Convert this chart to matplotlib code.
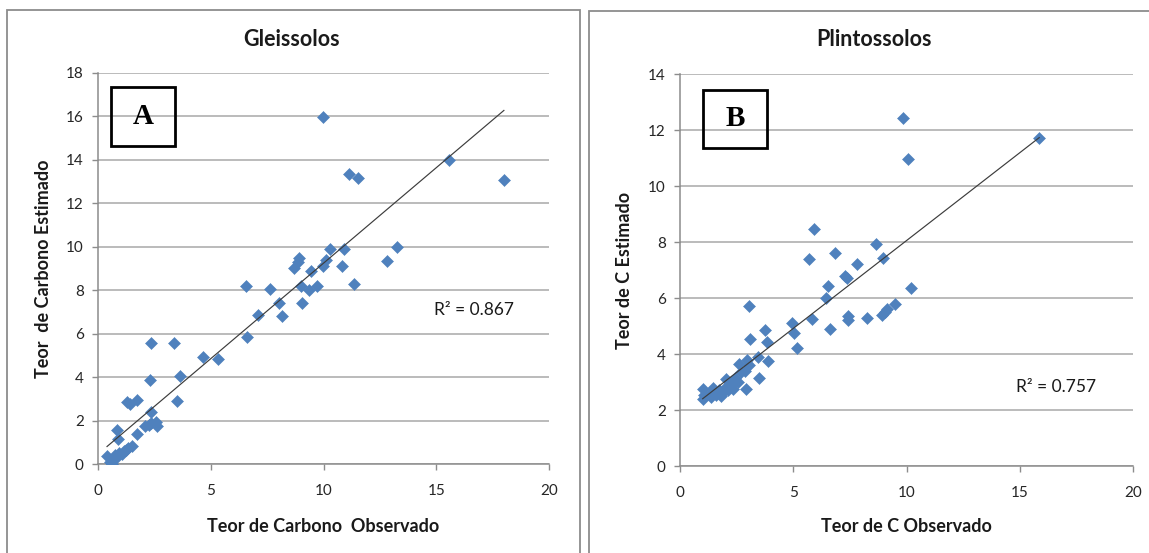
import numpy as np
import matplotlib
matplotlib.use("Agg")
import matplotlib.pyplot as plt
from matplotlib.patches import Rectangle

plt.rcParams['font.family'] = ['Lato', 'DejaVu Sans']

# Gleissolos: observed vs. estimated carbon content
gleis_obs = [0.40, 0.55, 0.60, 0.65, 0.75, 0.85, 0.95, 1.05, 1.15, 1.25, 1.35, 1.50,
             0.85, 0.90, 1.75, 2.10, 2.25, 2.35, 2.55, 2.60, 2.35, 1.30, 1.40, 1.72,
             2.30, 3.52, 3.64, 2.33, 3.37, 4.64, 5.34, 6.59, 7.11, 8.16, 8.04, 9.05,
             6.56, 7.63, 8.99, 9.37, 9.72, 11.35, 9.45, 8.70, 8.85, 8.93, 9.96, 10.11,
             10.80, 10.29, 10.91, 12.83, 13.25, 11.13, 11.52, 9.96, 15.58, 18.00]
gleis_est = [0.35, 0.10, 0.00, 0.25, 0.40, 0.30, 0.50, 0.45, 0.60, 0.65, 0.75, 0.85,
             1.57, 1.15, 1.37, 1.75, 1.78, 1.90, 1.95, 1.75, 2.40, 2.85, 2.78, 2.95,
             3.87, 2.92, 4.05, 5.56, 5.56, 4.91, 4.83, 5.84, 6.87, 6.80, 7.40, 7.43,
             8.18, 8.07, 8.18, 8.01, 8.20, 8.29, 8.90, 9.04, 9.30, 9.47, 9.13, 9.39,
             9.12, 9.90, 9.90, 9.35, 10.00, 13.34, 13.15, 15.96, 14.00, 13.08]

# Plintossolos: observed vs. estimated carbon content
plint_obs = [1.00, 1.00, 1.05, 1.35, 1.40, 1.45, 1.60, 1.70, 1.80, 1.90, 2.00, 2.05,
             2.10, 2.20, 2.30, 2.35, 2.45, 2.55, 2.60, 2.70, 2.85, 2.90, 2.95, 3.05,
             3.05, 3.08, 3.46, 3.50, 3.75, 3.82, 3.88, 4.93, 5.05, 5.15, 5.71, 5.81,
             5.92, 6.45, 6.52, 6.62, 6.84, 7.28, 7.36, 7.43, 7.43, 7.80, 8.27, 8.64,
             8.90, 8.95, 9.05, 9.12, 9.49, 9.86, 10.08, 10.22, 15.86]
plint_est = [2.40, 2.75, 2.55, 2.45, 2.65, 2.80, 2.55, 2.70, 2.50, 2.65, 2.80, 3.10,
             2.70, 2.85, 3.05, 2.75, 3.15, 3.00, 3.65, 3.35, 3.40, 2.75, 3.80, 3.60,
             5.70, 4.52, 3.90, 3.15, 4.85, 4.42, 3.75, 5.10, 4.75, 4.23, 7.38, 5.25,
             8.45, 6.01, 6.43, 4.88, 7.60, 6.80, 6.70, 5.35, 5.23, 7.20, 5.27, 7.93,
             5.38, 7.44, 5.50, 5.60, 5.77, 12.42, 10.97, 6.37, 11.73]

x_ticks = [0, 5, 10, 15, 20]
gleis_yticks = list(range(0, 19, 2))
plint_yticks = list(range(0, 15, 2))

W, H = 1149, 553
fig = plt.figure(figsize=(W / 100, H / 100), dpi=100)

BLUE = '#4F81BD'
GRID = '#a8a8a8'
SPINE = '#8c8c8c'


def fbox(l, t, r, b):
    return [l / W, 1 - b / H, (r - l) / W, (b - t) / H]


def frame(l, t, r, b, **kw):
    x, y, w, h = fbox(l, t, r, b)
    fig.patches.append(Rectangle((x, y), w, h, transform=fig.transFigure,
                                 fill=False, **kw))


# outer chart frames
frame(7, 10, 580, 570, edgecolor=SPINE, lw=1.3)
frame(589, 11, 1165, 570, edgecolor=SPINE, lw=1.3)


def panel(rect, obs, est, yticks, title, title_x, xlabel, ylabel, ylabel_x,
          r2_text, r2_xy, letter, letter_box):
    ax = fig.add_axes(fbox(*rect))
    ax.set_xlim(0, 20)
    ax.set_ylim(0, yticks[-1])
    ax.set_xticks(x_ticks)
    ax.set_yticks(yticks)
    ax.yaxis.grid(True, color=GRID, lw=1.1)
    ax.set_axisbelow(True)
    for s in ('top', 'right'):
        ax.spines[s].set_visible(False)
    for s in ('left', 'bottom'):
        ax.spines[s].set_color(SPINE)
        ax.spines[s].set_linewidth(1.1)
    ax.tick_params(direction='out', length=4.3, width=1.0, color=SPINE,
                   labelsize=11, labelcolor='#262626')
    ax.tick_params(axis='x', pad=10.0)
    ax.tick_params(axis='y', pad=6.0)

    ax.plot(obs, est, linestyle='none', marker='D', ms=6.3, color=BLUE,
            mec=BLUE, mew=0.4, zorder=3)

    # linear trendline over the observed range
    slope, intercept = np.polyfit(obs, est, 1)
    xs = np.array([min(obs), max(obs)])
    ax.plot(xs, slope * xs + intercept, color='#3c3c3c', lw=0.85, zorder=4)

    ax.set_xlabel(xlabel, fontsize=13, fontweight='bold', color='#1a1a1a')
    ax.set_ylabel(ylabel, fontsize=13, fontweight='bold', color='#1a1a1a')
    l, t, r, b = rect
    ax.xaxis.set_label_coords(0.5, (b - 526) / (b - t))
    ax.xaxis.label.set_va('center')
    ax.yaxis.set_label_coords((ylabel_x - l) / (r - l), 0.5)
    ax.yaxis.label.set_va('center')

    fig.text(title_x / W, 1 - 40 / H, title, ha='center', va='center',
             fontsize=15.5, fontweight='bold', color='#1a1a1a')
    fig.text(r2_xy[0] / W, 1 - r2_xy[1] / H, r2_text, ha='center', va='center',
             fontsize=12.5, color='#1a1a1a')

    bl, bt, br, bb = letter_box
    frame(bl, bt, br, bb, edgecolor='black', lw=2.0, facecolor='white',
          zorder=5)
    fig.text((bl + br) / 2 / W, 1 - (bt + bb) / 2 / H, letter, ha='center',
             va='center', fontsize=21, fontweight='bold',
             family=['Liberation Serif', 'DejaVu Serif'], zorder=6)
    return ax


panel((98, 73, 549, 464), gleis_obs, gleis_est, gleis_yticks, 'Gleissolos', 292,
      'Teor de Carbono  Observado', 'Teor  de Carbono Estimado', 44,
      'R² = 0.867', (474, 310), 'A', (111, 87, 175, 146))
panel((680, 74, 1133, 466), plint_obs, plint_est, plint_yticks, 'Plintossolos', 874,
      'Teor de C Observado', 'Teor de C Estimado', 624,
      'R² = 0.757', (1056, 387), 'B', (703, 90, 767, 148))

fig.savefig('out.png', dpi=100, facecolor='white')
